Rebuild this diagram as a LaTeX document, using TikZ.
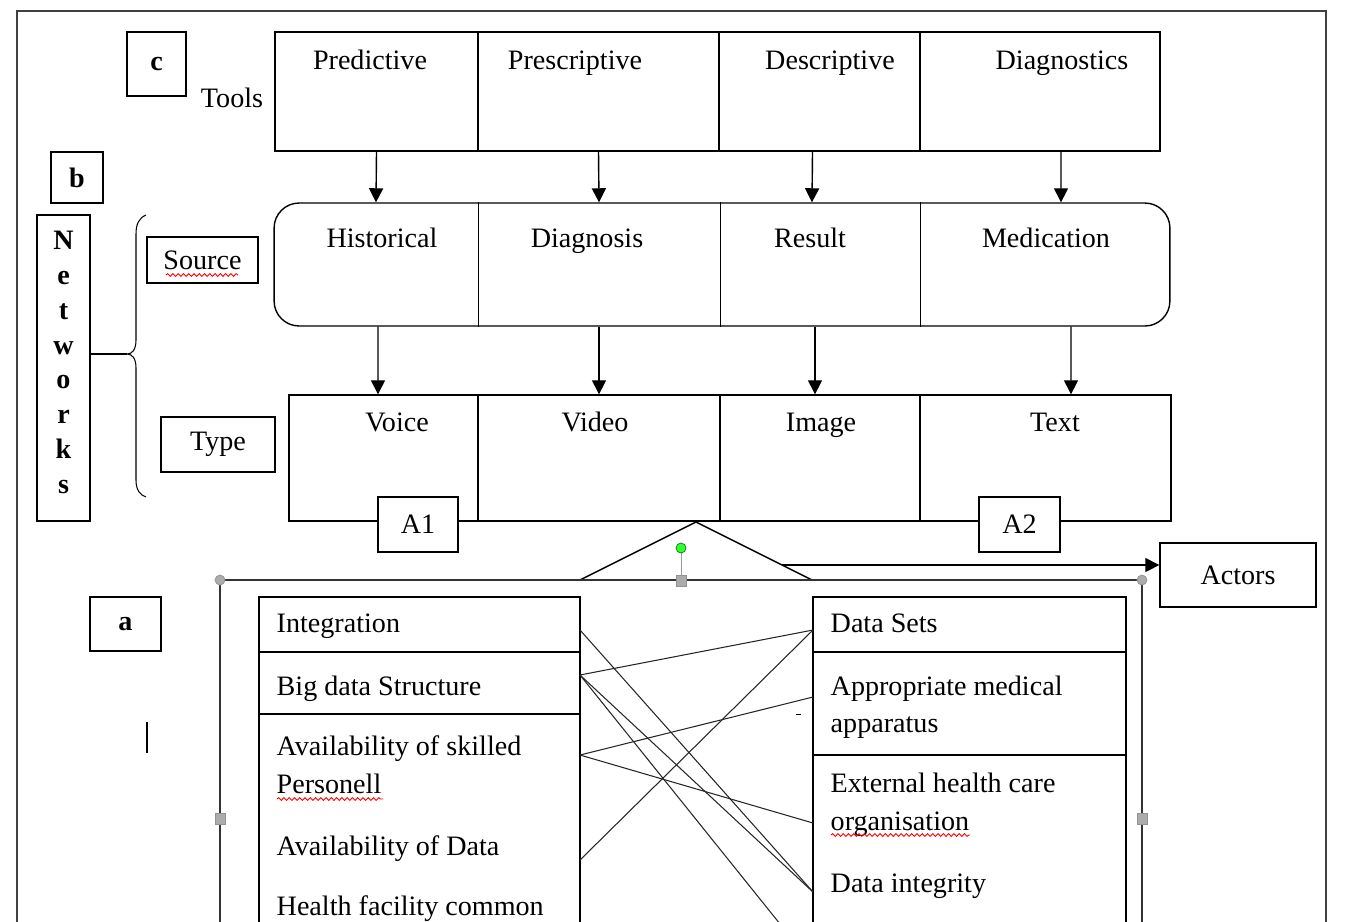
\documentclass[tikz,border=0pt]{standalone}
\usepackage{fontspec}
\setmainfont{Liberation Serif}
\usetikzlibrary{positioning,arrows.meta,decorations.pathmorphing}

\begin{document}
\begin{tikzpicture}[x=0.02cm, y=-0.02cm, line width=0.8pt,
  box/.style={draw, inner sep=0pt, font=\fontsize{16}{19}\selectfont},
  cell/.style={inner sep=0pt},
  lbl/.style={font=\fontsize{16}{19}\selectfont, inner sep=0pt, anchor=base},
  lblw/.style={lbl, anchor=base west},
  bld/.style={box, font=\fontsize{16}{19}\selectfont\bfseries},
  arr/.style={-{Triangle[length=8pt,width=8pt]}},
  link/.style={line width=0.6pt, black!85},
  wavy/.style={red, line width=0.5pt, decorate, decoration={snake, amplitude=0.8pt, segment length=3pt}},
  handle/.style={fill=gray!65, draw=gray!85, line width=0.4pt}]

\useasboundingbox (0,0) rectangle (1348,921);
\clip (0,0) rectangle (1348,921);

\draw[black!75, line width=1pt] (17,1000) -- (17,11) -- (1326,11) -- (1326,1000);

% c : tools
\node[bld, minimum width=1.18cm, minimum height=1.28cm] (cbox) at (156.5,64) {c};
\node[lbl] (tools) at (232,107) {Tools};

\node[box, minimum width=4.06cm, minimum height=2.38cm] (tl1) at (376.5,91.5) {};
\node[box, minimum width=4.82cm, minimum height=2.38cm] (tl2) at (598.5,91.5) {};
\node[box, minimum width=4.02cm, minimum height=2.38cm] (tl3) at (819.5,91.5) {};
\node[box, minimum width=4.80cm, minimum height=2.38cm] (tl4) at (1040,91.5) {};
\node[lbl] at (370,69) {Predictive};
\node[lbl] at (575,69) {Prescriptive};
\node[lbl] at (830,69) {Descriptive};
\node[lbl] at (1062,69) {Diagnostics};

% b : networks
\node[bld, minimum width=1.04cm, minimum height=1.02cm] (bbox) at (77,177.5) {b};
\node[box, minimum width=1.06cm, minimum height=6.12cm] (net) at (63.5,368) {};
\node[font=\fontsize{16}{19.9}\selectfont\bfseries, align=center, inner sep=0pt, anchor=north]
  at (63.5,230) {N\\e\\t\\w\\o\\r\\k\\s};

\coordinate (brtip) at (127,354);
\draw[line width=0.6pt] (146,215) .. controls (139,218) and (136,224) .. (136,234) -- (136,340)
  .. controls (136,350) and (132,354) .. (brtip)
  .. controls (132,354) and (136,358) .. (136,368) -- (136,480)
  .. controls (136,490) and (140,495) .. (146,497);
\draw (net.east |- brtip) -- (brtip);

\node[box, minimum width=2.22cm, minimum height=0.92cm] (srclbl) at (202.5,260) {Source};
\draw[wavy] (166,275) -- (238,275);
\node[box, minimum width=2.28cm, minimum height=1.1cm] (typlbl) at (218,444.5) {Type};

% source row
\node[box, rounded corners=0.5cm, minimum width=17.92cm, minimum height=2.46cm] (srow) at (722,264.5) {};
\node[cell, minimum width=4.08cm, minimum height=2.46cm] (src1) at (376,264.5) {};
\node[cell, minimum width=4.84cm, minimum height=2.46cm] (src2) at (599,264.5) {};
\node[cell, minimum width=4.00cm, minimum height=2.46cm] (src3) at (820,264.5) {};
\node[cell, minimum width=5.00cm, minimum height=2.46cm] (src4) at (1045,264.5) {};
\draw (src1.north east) -- (src1.south east);
\draw (src2.north east) -- (src2.south east);
\draw (src3.north east) -- (src3.south east);
\node[lbl] at (382,247) {Historical};
\node[lbl] at (587,247) {Diagnosis};
\node[lbl] at (810,247) {Result};
\node[lbl] at (1046,247) {Medication};

% type row
\node[box, minimum width=3.78cm, minimum height=2.52cm] (ty1) at (383.5,458) {};
\node[box, minimum width=4.84cm, minimum height=2.52cm] (ty2) at (599,458) {};
\node[box, minimum width=4.00cm, minimum height=2.52cm] (ty3) at (820,458) {};
\node[box, minimum width=5.02cm, minimum height=2.52cm] (ty4) at (1045.5,458) {};
\node[lbl] at (397,431) {Voice};
\node[lbl] at (595,431) {Video};
\node[lbl] at (821,431) {Image};
\node[lbl] at (1055,431) {Text};
\node[box, fill=white, minimum width=1.6cm, minimum height=1.1cm] (aone) at (418,524.5) {A1};
\node[box, fill=white, minimum width=1.62cm, minimum height=1.1cm] (atwo) at (1019.5,524.5) {A2};

\draw[arr] (tl1.south) -- (src1.north);
\draw[arr] (tl2.south) -- (src2.north);
\draw[arr] ([xshift=-0.14cm]tl3.south) -- ([xshift=-0.16cm]src3.north);
\draw[arr] ([xshift=0.42cm]tl4.south) -- ([xshift=0.32cm]src4.north);
\draw[arr] ([xshift=0.04cm]src1.south) -- ([xshift=-0.11cm]ty1.north);
\draw[arr] (src2.south) -- (ty2.north);
\draw[arr] ([xshift=-0.1cm]src3.south) -- ([xshift=-0.1cm]ty3.north);
\draw[arr] ([xshift=0.52cm]src4.south) -- ([xshift=0.51cm]ty4.north);

% a : actors
\coordinate (tri) at (696,522);
\coordinate (triR) at (782,565);
\draw (580,580) -- (tri) -- (812,580);
\node[box, minimum width=3.12cm, minimum height=1.28cm] (act) at (1238,575) {Actors};
\draw[arr] (triR) -- (triR -| act.west);

\draw[black!80] (220,580) rectangle (1142,1060);
\draw[gray!80, line width=0.5pt] (681,548) -- (681,580);
\filldraw[fill=green!80, draw=green!50!black, line width=0.4pt] (681,548) circle (0.1cm);
\filldraw[handle] (220,580) circle (0.1cm);
\filldraw[handle] (1142,580) circle (0.1cm);
\filldraw[handle] (676,575) rectangle (686,586);
\filldraw[handle] (215,813) rectangle (225,824);
\filldraw[handle] (1137,813) rectangle (1147,824);

\node[bld, minimum width=1.42cm, minimum height=1.08cm] (abox) at (125.5,624) {a};
\draw[line width=0.6pt] (147,722) -- (147,753);

% left table
\node[box, minimum width=6.42cm, minimum height=1.1cm] (lr1) at (419.5,624.5) {};
\node[box, minimum width=6.42cm, minimum height=1.24cm] (lr2) at (419.5,683) {};
\node[box, minimum width=6.42cm, minimum height=6cm] (lr3) at (419.5,864) {};
\node[lblw] (tInt) at (276,632) {Integration};
\node[lblw] (tBig) at (276,695) {Big data Structure};
\node[lblw] (tSk) at (276,755) {Availability of skilled};
\node[lblw] (tPer) at (276,793) {Personell};
\draw[wavy] (277,799) -- (383,799);
\node[lblw] (tAv) at (276,855) {Availability of Data};
\node[lblw] (tHf) at (276,915) {Health facility common};

% right table
\node[box, minimum width=6.26cm, minimum height=1.1cm] (rr1) at (969.5,624.5) {};
\node[box, minimum width=6.26cm, minimum height=2.06cm] (rr2) at (969.5,703.5) {};
\node[box, minimum width=6.26cm, minimum height=6cm] (rr3) at (969.5,905) {};
\node[lblw] (tDs) at (830,632) {Data Sets};
\node[lblw] (tAp) at (830,695) {Appropriate medical};
\node[lblw] (tApp) at (830,732) {apparatus};
\node[lblw] (tEx) at (830,792) {External health care};
\node[lblw] (tOrg) at (830,830) {organisation};
\draw[wavy] (831,835) -- (970,835);
\node[lblw] (tDi) at (830,892) {Data integrity};

\coordinate (lInt) at (580,630);
\coordinate (lBig) at (580,675);
\coordinate (lSk) at (580,755);
\coordinate (lAv) at (580,860);
\coordinate (rDs) at (813,630);
\coordinate (rAp) at (813,697);
\coordinate (rEx) at (813,823);
\coordinate (rDi) at (813,892);
\coordinate (rLow) at (813,965);

\draw[link] (lInt) -- (rDi);
\draw[link] (lBig) -- (rDs);
\draw[link] (lBig) -- (rDi);
\draw[link] (lBig) -- (rLow);
\draw[link] (lSk) -- (rAp);
\draw[link] (lSk) -- (rEx);
\draw[link] (lAv) -- (rDs);
\draw[line width=0.5pt] (796,714) -- (801,714);

\end{tikzpicture}
\end{document}
